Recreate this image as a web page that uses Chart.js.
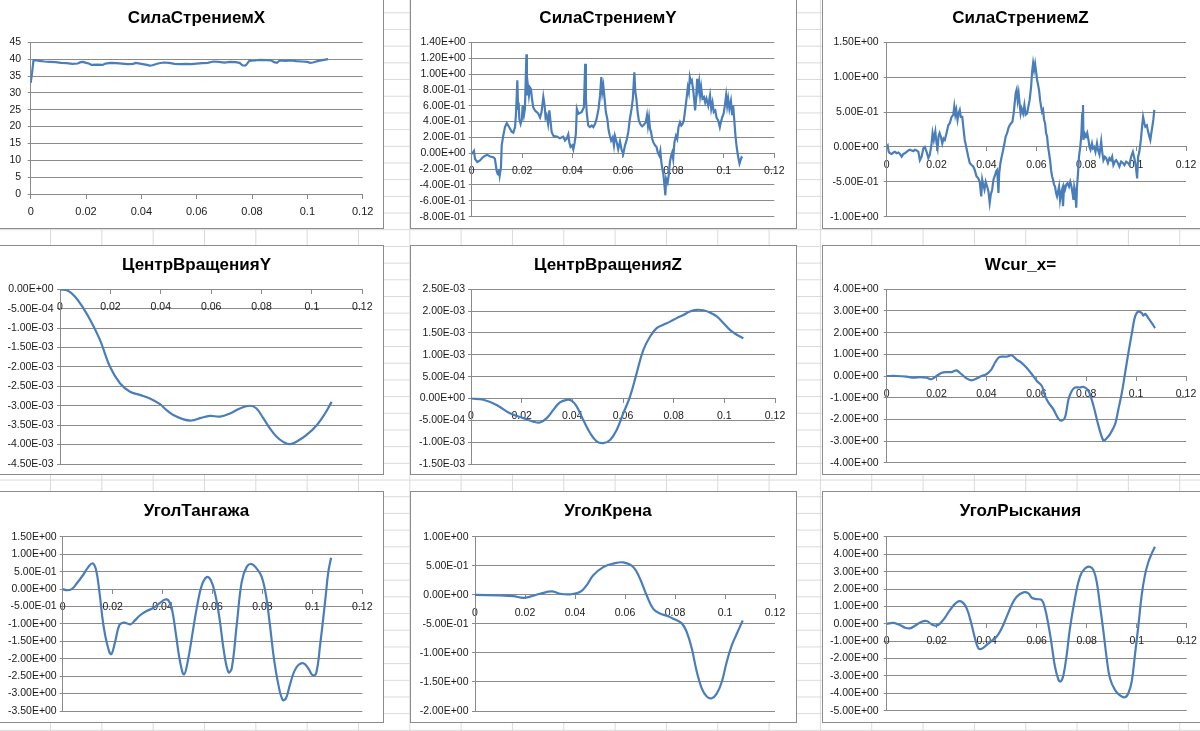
<!DOCTYPE html>
<html><head><meta charset="utf-8">
<script src="https://cdn.jsdelivr.net/npm/chart.js@4/dist/chart.umd.min.js"></script>
<style>
html,body{margin:0;padding:0;width:1200px;height:731px;overflow:hidden;background:#fff;}
#sheet{position:absolute;left:0;top:0;width:1200px;height:731px;
 background-image:linear-gradient(to right,#dadada 1px,transparent 1px),linear-gradient(to bottom,#dadada 1px,transparent 1px);
 background-size:51.33px 100%,100% 16.7px;background-position:50px 0,0 12.3px;}
.panel{position:absolute;background:#fff;border:1px solid #8c8c8c;box-sizing:border-box;}
canvas{position:absolute;}
</style></head><body>
<div id="sheet"></div>
<script>
// ---- data (time in s on x) ----
const fxX = [0,0.0005,0.001,0.002,0.003,0.005,0.007,0.009,0.011,0.013,
0.015,0.017,0.018,0.019,0.020,0.021,0.022,0.024,0.026,0.027,
0.029,0.031,0.033,0.035,0.037,0.038,0.040,0.042,0.043,0.044,
0.046,0.048,0.050,0.052,0.054,0.056,0.058,0.060,0.062,0.064,
0.066,0.068,0.070,0.072,0.074,0.0755,0.0765,0.0775,0.078,0.079,
0.081,0.083,0.085,0.087,0.088,0.089,0.090,0.092,0.094,0.096,
0.098,0.100,0.101,0.102,0.104,0.106,0.1075];
const fxY = [33.0,36.0,39.6,39.7,39.5,39.3,39.2,39.1,38.9,38.8,
38.6,38.7,39.1,39.2,38.9,38.7,38.3,38.4,38.3,38.7,
38.9,38.8,38.7,38.5,38.6,38.9,38.6,38.3,38.1,38.2,
38.7,39.0,38.9,38.6,38.5,38.6,38.5,38.7,38.8,38.9,
39.3,39.2,39.0,39.2,39.1,38.9,38.2,38.1,38.4,39.5,
39.6,39.8,39.7,39.6,39.1,38.9,39.6,39.5,39.6,39.4,
39.3,39.2,38.9,39.0,39.5,39.8,40.0];

const fyX = [0,0.0009,0.0013,0.0022,0.0033,0.0044,0.0053,0.0062,0.0073,0.0086,
0.0092,0.0099,0.0103,0.0106,0.0108,0.0111,0.0116,0.0119,0.0125,0.0132,
0.0139,0.0145,0.0152,0.0159,0.0165,0.0172,0.0176,0.0181,0.0184,0.0186,
0.0189,0.0194,0.0199,0.0202,0.0207,0.0211,0.0217,0.0219,0.0223,0.0227,
0.0231,0.0235,0.0239,0.0244,0.0251,0.0258,0.0264,0.0271,0.0277,0.0284,
0.0289,0.0293,0.0297,0.0303,0.0308,0.0313,0.0317,0.0324,0.0337,0.0350,
0.0363,0.0370,0.0376,0.0383,0.0387,0.0392,0.0399,0.0403,0.0408,0.0413,
0.0417,0.0423,0.0436,0.0445,0.0450,0.0453,0.0456,0.0462,0.0469,0.0476,
0.0482,0.0489,0.0495,0.0503,0.0509,0.0514,0.0518,0.0522,0.0527,0.0532,
0.0538,0.0543,0.0548,0.0553,0.0559,0.0564,0.0568,0.0575,0.0581,0.0588,
0.0594,0.0601,0.0608,0.0614,0.0621,0.0627,0.0634,0.0639,0.0645,0.0649,
0.0653,0.0658,0.0663,0.0670,0.0676,0.0683,0.0690,0.0695,0.0699,0.0703,
0.0707,0.0711,0.0716,0.0720,0.0727,0.0733,0.0738,0.0744,0.0748,0.0752,
0.0756,0.0760,0.0764,0.0768,0.0771,0.0777,0.0782,0.0786,0.0791,0.0795,
0.0799,0.0804,0.0810,0.0815,0.0820,0.0826,0.0831,0.0836,0.0841,0.0847,
0.0852,0.0857,0.0861,0.0865,0.0869,0.0873,0.0878,0.0882,0.0886,0.0890,
0.0894,0.0898,0.0902,0.0906,0.0910,0.0915,0.0921,0.0926,0.0931,0.0938,
0.0945,0.0950,0.0955,0.0960,0.0966,0.0971,0.0978,0.0984,0.0988,0.0993,
0.0999,0.1004,0.1009,0.1013,0.1017,0.1022,0.1028,0.1033,0.1037,0.1042,
0.1046,0.1050,0.1054,0.1058,0.1062,0.1066,0.1070,0.1074];
const fyY = [-0.01,0.03,-0.07,-0.11,-0.09,-0.05,-0.03,-0.02,-0.04,-0.05,
-0.07,-0.22,-0.26,-0.27,-0.20,-0.28,-0.18,0.10,0.22,0.33,
0.38,0.35,0.31,0.27,0.26,0.33,0.52,0.92,0.56,0.64,
0.43,0.37,0.43,0.60,0.48,0.56,1.25,0.73,0.85,0.73,
0.83,0.81,0.69,0.58,0.54,0.52,0.50,0.45,0.52,0.71,
0.60,0.45,0.48,0.37,0.54,0.39,0.27,0.22,0.21,0.19,
0.21,0.16,0.18,0.24,0.14,0.08,0.10,0.05,0.13,0.24,
0.56,0.50,0.52,0.58,1.13,0.69,0.52,0.35,0.33,0.35,
0.33,0.37,0.43,0.56,0.73,0.96,0.77,0.85,0.69,0.52,
0.43,0.29,0.22,0.16,0.20,0.10,0.22,0.14,0.05,0.15,
0.05,-0.01,0.10,0.16,0.27,0.43,0.56,0.69,1.02,0.77,
0.69,0.52,0.41,0.36,0.34,0.36,0.39,0.48,0.35,0.45,
0.31,0.27,0.18,0.14,0.10,0.08,0.01,-0.03,0.03,-0.11,
-0.20,-0.26,-0.39,-0.53,-0.32,-0.37,-0.26,-0.11,-0.03,0.01,
-0.07,0.14,0.22,0.18,0.33,0.39,0.35,0.37,0.41,0.56,
0.69,0.83,0.77,0.96,0.90,0.92,0.81,0.69,0.54,0.69,
0.94,0.81,0.90,0.73,0.83,0.69,0.71,0.64,0.69,0.60,
0.73,0.56,0.64,0.52,0.54,0.45,0.41,0.33,0.39,0.45,
0.50,0.60,0.73,0.60,0.69,0.56,0.66,0.48,0.60,0.39,
0.22,0.10,0.01,-0.07,-0.13,-0.09,-0.05,-0.06];

const fzX = [0,0.0004,0.0008,0.0013,0.002,0.0027,0.0033,0.004,0.0047,0.0053,
0.006,0.0067,0.0073,0.008,0.0087,0.0093,0.01,0.0107,0.0113,0.012,
0.0127,0.0133,0.014,0.0147,0.0153,0.016,0.0167,0.0173,0.018,0.0184,
0.0189,0.0195,0.02,0.0204,0.0208,0.0212,0.0217,0.0223,0.0228,0.0233,
0.024,0.0247,0.0253,0.026,0.0267,0.0271,0.0275,0.0279,0.0284,0.0288,
0.0293,0.0297,0.0303,0.0307,0.0313,0.032,0.0327,0.0333,0.034,0.0347,
0.0353,0.036,0.0367,0.0373,0.0379,0.0383,0.0387,0.0392,0.0397,0.0403,
0.0408,0.0413,0.0417,0.0423,0.0428,0.0433,0.0439,0.0443,0.0448,0.0451,
0.0456,0.0461,0.0467,0.0472,0.0477,0.0483,0.0488,0.0493,0.0499,0.0504,
0.0509,0.0513,0.0517,0.0521,0.0525,0.0529,0.0533,0.0537,0.0541,0.0547,
0.0552,0.0557,0.0563,0.0568,0.0573,0.0579,0.0583,0.0587,0.0591,0.0595,
0.0599,0.0603,0.0607,0.0611,0.0615,0.0619,0.0623,0.0627,0.0631,0.0635,
0.0639,0.0643,0.0647,0.0651,0.0655,0.0659,0.0663,0.0667,0.0671,0.0675,
0.0679,0.0683,0.0687,0.0691,0.0695,0.0699,0.0703,0.0707,0.0711,0.0715,
0.072,0.0725,0.0731,0.0736,0.0741,0.0745,0.0749,0.0752,0.0756,0.076,
0.0763,0.0767,0.0771,0.0776,0.078,0.0784,0.0787,0.0789,0.0793,0.0799,
0.0804,0.0809,0.0813,0.0817,0.0823,0.0827,0.0832,0.0837,0.0843,0.0847,
0.0853,0.086,0.0864,0.0869,0.0875,0.088,0.0887,0.0893,0.0899,0.0904,
0.0909,0.0915,0.092,0.0927,0.0933,0.094,0.0947,0.0953,0.096,0.0967,
0.0973,0.098,0.0987,0.0993,0.0999,0.1004,0.1008,0.1013,0.1019,0.1024,
0.1028,0.1033,0.1037,0.1043,0.1048,0.1053,0.1057,0.1061,0.1065,0.1069,
0.1073];
const fzY = [0,0.02,-0.07,-0.09,-0.10,-0.08,-0.07,-0.09,-0.08,-0.10,
-0.14,-0.10,-0.09,-0.07,-0.05,-0.04,-0.05,-0.06,-0.04,-0.05,
-0.07,-0.19,-0.14,-0.02,0.00,-0.07,-0.16,-0.11,0.05,0.20,
0.10,0.22,0.05,-0.02,0.15,0.20,0.15,0.05,0.12,0.10,
0.20,0.31,0.34,0.43,0.46,0.58,0.46,0.53,0.39,0.48,
0.53,0.43,0.43,0.29,0.10,-0.02,-0.14,-0.23,-0.26,-0.28,
-0.33,-0.42,-0.45,-0.50,-0.71,-0.47,-0.54,-0.61,-0.50,-0.57,
-0.64,-0.80,-0.69,-0.61,-0.47,-0.42,-0.35,-0.33,-0.66,-0.38,
-0.23,-0.14,-0.04,0.05,0.15,0.20,0.27,0.31,0.34,0.36,
0.48,0.62,0.77,0.82,0.67,0.77,0.62,0.48,0.55,0.48,
0.60,0.46,0.48,0.58,0.67,0.86,1.08,1.20,1.10,1.19,
1.08,0.96,0.89,0.81,0.67,0.58,0.50,0.53,0.39,0.34,
0.20,0.15,0.00,-0.09,-0.19,-0.33,-0.42,-0.47,-0.54,-0.57,
-0.66,-0.71,-0.64,-0.57,-0.76,-0.66,-0.61,-0.85,-0.57,-0.61,
-0.54,-0.52,-0.57,-0.50,-0.57,-0.66,-0.76,-0.57,-0.64,-0.87,
-0.57,-0.38,-0.14,0.00,0.15,0.48,0.60,0.10,0.20,0.15,
0.20,0.10,0.00,-0.04,0.05,-0.02,0.00,-0.07,0.05,-0.04,
-0.11,0.08,-0.07,-0.19,-0.14,-0.16,-0.23,-0.16,-0.19,-0.14,
-0.26,-0.21,-0.19,-0.23,-0.28,-0.21,-0.23,-0.26,-0.21,-0.23,
-0.26,-0.14,-0.07,-0.16,-0.28,-0.45,-0.14,-0.07,0.10,0.29,
0.43,0.34,0.29,0.31,0.22,0.15,0.10,0.20,0.29,0.39,
0.53];

const cyX = [0,0.003,0.006,0.0093,0.012,0.0159,0.0198,0.0238,0.0278,0.0317,
0.0357,0.0397,0.0423,0.045,0.049,0.0522,0.0556,0.0595,0.0635,0.0675,
0.0714,0.0754,0.078,0.0807,0.0833,0.086,0.0886,0.0913,0.094,0.0979,
0.1019,0.1052,0.1078];
const cyY = [0,-0.00003,-0.00019,-0.00049,-0.00079,-0.00131,-0.00199,-0.00242,-0.00264,-0.00272,
-0.00281,-0.00296,-0.00311,-0.00324,-0.00335,-0.00338,-0.00332,-0.00326,-0.00328,-0.0032,
-0.00307,-0.003,-0.00307,-0.00332,-0.00358,-0.0038,-0.00393,-0.00399,-0.00392,-0.00375,
-0.0035,-0.0032,-0.0029];

const czX = [0,0.0049,0.0101,0.0154,0.0207,0.0246,0.0272,0.0299,0.0325,0.0351,
0.0378,0.0397,0.0417,0.0443,0.047,0.0496,0.0522,0.0549,0.0575,0.0601,
0.0628,0.0654,0.068,0.0707,0.0733,0.0759,0.0786,0.0812,0.0838,0.0864,
0.0891,0.0917,0.0943,0.097,0.0996,0.1022,0.1049,0.1075];
const czY = [0,-0.00003,-0.00015,-0.00034,-0.00045,-0.00053,-0.00055,-0.00045,-0.00026,-0.00009,
-0.00003,-0.00005,-0.00018,-0.00049,-0.00079,-0.00098,-0.00102,-0.00095,-0.00072,-0.00034,
0.00005,0.00058,0.00111,0.00142,0.00161,0.00169,0.00176,0.00184,0.00191,0.00199,
0.00203,0.00202,0.00197,0.00188,0.00173,0.00157,0.00146,0.00138];

const wxX = [0,0.004,0.008,0.0107,0.0134,0.016,0.018,0.02,0.0221,0.024,
0.026,0.028,0.03,0.032,0.034,0.036,0.038,0.04,0.042,0.0434,
0.0448,0.0461,0.0481,0.0501,0.0521,0.0541,0.0561,0.0582,0.0602,0.0622,
0.0635,0.0648,0.0668,0.0689,0.0702,0.0715,0.0729,0.0742,0.0755,0.0775,
0.0789,0.0809,0.0829,0.0849,0.0869,0.0882,0.0896,0.0916,0.0929,0.0943,
0.0956,0.0969,0.0983,0.0996,0.1009,0.1023,0.1029,0.1036,0.1049,0.1063,
0.1076];
const wxY = [0,0,-0.03,-0.08,-0.05,-0.08,-0.15,0,0.15,0.18,
0.18,0.26,0.08,-0.11,-0.2,-0.12,0,0.08,0.31,0.61,
0.84,0.89,0.89,0.96,0.76,0.61,0.38,0.08,-0.23,-0.46,
-0.92,-1.22,-1.53,-1.98,-2.06,-1.91,-1.07,-0.69,-0.53,-0.53,
-0.5,-0.69,-1.37,-2.29,-2.98,-2.87,-2.67,-2.21,-1.53,-0.76,
0.15,1.07,1.98,2.75,2.98,2.9,2.78,2.87,2.67,2.44,
2.21];

const ptX = [0,0.0016,0.0036,0.0056,0.0083,0.0103,0.012,0.0134,0.0147,0.0163,
0.0179,0.0194,0.021,0.0227,0.0243,0.0256,0.0272,0.029,0.031,0.0336,
0.0363,0.0387,0.041,0.0423,0.0437,0.0454,0.047,0.0486,0.0503,0.0521,
0.0539,0.0557,0.0577,0.0593,0.061,0.0628,0.0646,0.0664,0.0677,0.0697,
0.0717,0.0737,0.0757,0.0777,0.0797,0.0814,0.083,0.0846,0.0864,0.0881,
0.0894,0.091,0.0927,0.0944,0.0964,0.0984,0.1001,0.1015,0.1031,0.1051,
0.1064,0.1075];
const ptY = [0,-0.03,0,0.16,0.42,0.64,0.74,0.54,-0.08,-1.03,
-1.61,-1.87,-1.51,-1.03,-0.96,-0.98,-1.01,-0.89,-0.75,-0.63,
-0.54,-0.41,-0.3,-0.32,-0.55,-1.32,-2.08,-2.45,-1.99,-1.22,
-0.46,0.11,0.35,0.26,-0.12,-0.84,-1.8,-2.39,-2.28,-1.03,
0.21,0.64,0.72,0.59,0.35,-0.17,-1.03,-1.99,-2.75,-3.18,
-3.14,-2.75,-2.37,-2.18,-2.13,-2.28,-2.47,-2.42,-1.61,-0.36,
0.5,0.9];

const rlX = [0,0.01,0.0153,0.0193,0.022,0.026,0.0307,0.034,0.038,0.042,
0.0447,0.0473,0.0513,0.0553,0.0593,0.0633,0.066,0.0687,0.0713,0.074,
0.0767,0.0793,0.0827,0.0847,0.0867,0.0887,0.0907,0.0927,0.0947,0.0967,
0.0987,0.1007,0.1027,0.1047,0.1071];
const rlY = [0,-0.01,-0.02,-0.05,-0.03,0.02,0.06,0.02,0.01,0.05,
0.17,0.34,0.48,0.54,0.56,0.48,0.28,-0.01,-0.24,-0.32,
-0.36,-0.41,-0.49,-0.64,-0.92,-1.32,-1.61,-1.75,-1.78,-1.7,
-1.5,-1.15,-0.87,-0.67,-0.44];

const ywX = [0,0.0027,0.0053,0.0073,0.0093,0.0113,0.014,0.016,0.018,0.0197,
0.0213,0.0233,0.0253,0.028,0.03,0.032,0.034,0.0353,0.0367,0.038,
0.04,0.042,0.044,0.046,0.048,0.05,0.052,0.0547,0.0567,0.058,
0.06,0.062,0.0633,0.0647,0.066,0.0673,0.0687,0.0696,0.0707,0.072,
0.0733,0.0753,0.0773,0.0793,0.0813,0.0827,0.084,0.0853,0.0867,0.088,
0.0893,0.0913,0.0933,0.0953,0.0967,0.098,0.0993,0.1007,0.102,0.1033,
0.1047,0.106,0.1073];
const ywY = [0,0.05,-0.07,-0.22,-0.26,-0.11,0.12,0.16,-0.03,-0.11,
0.01,0.35,0.79,1.23,1.27,0.89,-0.07,-0.83,-1.41,-1.44,
-1.21,-0.98,-0.74,-0.26,0.41,1.08,1.56,1.81,1.75,1.5,
1.42,1.37,0.89,-0.07,-1.21,-2.46,-3.22,-3.32,-2.94,-1.79,
-0.26,1.46,2.71,3.18,3.28,3.09,2.42,1.08,-0.45,-1.98,
-3.13,-3.8,-4.12,-4.23,-3.98,-3.32,-1.79,-0.07,1.65,2.8,
3.57,4.04,4.43];

// axis ranges [min, max, step]
const xRange = [0, 0.12, 0.02];
const yR1 = [0, 45, 5];
const yR2 = [-0.8, 1.4, 0.2];
const yR3 = [-1, 1.5, 0.5];
const yR4 = [-0.0045, 0, 0.0005];
const yR5 = [-0.0015, 0.0025, 0.0005];
const yR6 = [-4, 4, 1];
const yR7 = [-3.5, 1.5, 0.5];
const yR8 = [-2, 1, 0.5];
const yR9 = [-5, 5, 1];

const titles = ['СилаСтрениемX','СилаСтрениемY','СилаСтрениемZ','ЦентрВращенияY','ЦентрВращенияZ','Wcur_x=','УголТангажа','УголКрена','УголРыскания'];

// ---- layout ----
const COLS = [{pL:-3,pW:387,cL:-3,cW:399},{pL:410,pW:387,cL:405,cW:406},{pL:822,pW:400,cL:815,cW:411}];
const ROWS = [{pT:-1,pH:230,cT:0,cH:228,tTop:8.1,tBot:13.8},{pT:245,pH:230,cT:246,cH:228,tTop:8.8,tBot:14.1},{pT:491,pH:232,cT:492,cH:230,tTop:9.5,tBot:15}];

const PANELS = [
 {xs:fxX,ys:fxY,yr:yR1,fmt:'plain',ten:0,  c:0,r:0,L:30.7, R:362.7,B:194,  yp:6.5,fs:11},
 {xs:fyX,ys:fyY,yr:yR2,fmt:'sci',  ten:0,  c:1,r:0,L:471.7,R:774.3,B:216.7,yp:3,  fs:10.5},
 {xs:fzX,ys:fzY,yr:yR3,fmt:'sci',  ten:0,  c:2,r:0,L:886.7,R:1186, B:217.3,yp:5,  fs:10.5},
 {xs:cyX,ys:cyY,yr:yR4,fmt:'sci',  ten:0.4,c:0,r:1,L:60,   R:362.3,B:464,  yp:3.5,fs:10.5},
 {xs:czX,ys:czY,yr:yR5,fmt:'sci',  ten:0.4,c:1,r:1,L:471,  R:775,  B:464,  yp:3,  fs:10.5},
 {xs:wxX,ys:wxY,yr:yR6,fmt:'sci',  ten:0.3,c:2,r:1,L:886.7,R:1186, B:464,  yp:5,  fs:10.5},
 {xs:ptX,ys:ptY,yr:yR7,fmt:'sci',  ten:0.4,c:0,r:2,L:62.7, R:362.3,B:711,  yp:3,  fs:10.5},
 {xs:rlX,ys:rlY,yr:yR8,fmt:'sci',  ten:0.4,c:1,r:2,L:475,  R:775,  B:711,  yp:3.5,fs:10.5},
 {xs:ywX,ys:ywY,yr:yR9,fmt:'sci',  ten:0.4,c:2,r:2,L:886.7,R:1186.7,B:711, yp:5,  fs:10.5}
];

const GRID = '#8a8a8a', TXT = '#1a1a1a', LINE = '#4A7EBB';
const FAM = "'Liberation Sans', Arial, sans-serif";

function sci(v){
  if (Math.abs(v) < 1e-12) v = 0;
  const s = v.toExponential(2);
  const i = s.indexOf('e');
  return s.slice(0,i) + 'E' + s[i+1] + s.slice(i+2).padStart(2,'0');
}
function plainX(v){ return String(Math.round(v*1000)/1000); }
function plainY(v){ return String(Math.round(v*1000)/1000); }

PANELS.forEach((p, k) => {
  const col = COLS[p.c], row = ROWS[p.r];
  const d = document.createElement('div');
  d.className = 'panel';
  Object.assign(d.style, {left: col.pL+'px', top: row.pT+'px', width: col.pW+'px', height: row.pH+'px'});
  document.body.appendChild(d);
  const cv = document.createElement('canvas');
  cv.width = col.cW; cv.height = row.cH;
  Object.assign(cv.style, {left: col.cL+'px', top: row.cT+'px', width: col.cW+'px', height: row.cH+'px'});
  document.body.appendChild(cv);
  const yW = p.L - col.cL;
  const rW = col.cL + col.cW - p.R;
  const padB = row.cT + row.cH - p.B;
  new Chart(cv, {
    type: 'line',
    data: {datasets: [{
      data: p.xs.map((x, i) => ({x: x, y: p.ys[i]})),
      borderColor: LINE, borderWidth: 2.2, pointRadius: 0, pointHoverRadius: 0,
      tension: p.ten, fill: false, yAxisID: 'y'
    }]},
    options: {
      responsive: false, animation: false, devicePixelRatio: 1,
      events: [],
      layout: {padding: {left: 0, right: 0, top: 0, bottom: padB}},
      plugins: {
        legend: {display: false}, tooltip: {enabled: false},
        title: {display: true, text: titles[k], color: '#000',
          font: {family: FAM, size: 17, weight: 'bold'},
          padding: {top: row.tTop, bottom: row.tBot}}
      },
      scales: {
        x: {
          type: 'linear', min: xRange[0], max: xRange[1], position: {y: 0},
          grid: {display: true, drawOnChartArea: false, drawTicks: true, tickLength: 4, color: GRID},
          border: {display: true, color: GRID, width: 1},
          ticks: {stepSize: xRange[2], padding: 7.5, color: TXT, autoSkip: false, maxRotation: 0,
            font: {family: FAM, size: p.fs}, callback: v => plainX(v)}
        },
        y: {
          type: 'linear', position: 'left', min: p.yr[0], max: p.yr[1],
          grid: {display: true, drawTicks: true, tickLength: 3, color: GRID},
          border: {display: true, color: GRID, width: 1},
          ticks: {stepSize: p.yr[2], padding: p.yp, color: TXT, autoSkip: false,
            font: {family: FAM, size: 10.5},
            callback: v => p.fmt === 'sci' ? sci(v) : plainY(v)},
          afterFit: s => { s.width = yW; }
        },
        ySpacer: {
          type: 'linear', position: 'right', display: true,
          grid: {display: false}, border: {display: false}, ticks: {display: false},
          afterFit: s => { s.width = rW; }
        }
      }
    }
  });
});
</script>
</body></html>
